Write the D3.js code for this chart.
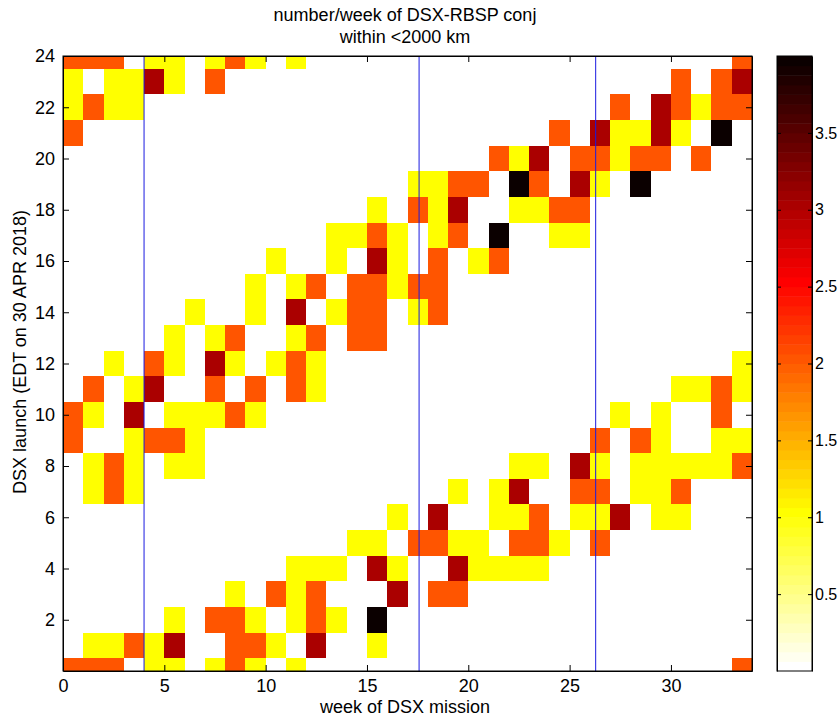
<!DOCTYPE html>
<html>
<head>
<meta charset="utf-8">
<script src="https://cdn.jsdelivr.net/npm/d3@7"></script>
<style>
  body { margin: 0; background: #fff; }
  svg text { font-family: "Liberation Sans", Arial, Helvetica, sans-serif; fill: #000; }
  .axis path, .axis line { stroke: #000; }
</style>
</head>
<body>
<div class="container"></div>
<script>
// conjunction counts per week, one string per launch hour (week 0 .. 33, spaces only group by 5)
var hours = d3.range(0, 25);
var weeks = d3.range(0, 34);
var counts = {
  24: "22201 10121 01000 00000 00000 00000 0002",
  23: "10113 10200 00000 00000 00000 00000 2023",
  22: "12110 00000 00000 00000 00000 00203 2122",
  21: "20000 00000 00000 00000 00002 03113 1040",
  20: "00000 00000 00000 00000 02130 22122 0200",
  19: "00000 00000 00000 00112 20420 31040 0000",
  18: "00000 00000 00000 10213 00112 20000 0000",
  17: "00000 00000 00011 21012 04001 10000 0000",
  16: "00000 00000 10010 31020 12000 00000 0000",
  15: "00000 00001 01202 21220 00000 00000 0000",
  14: "00000 01001 03012 20120 00000 00000 0000",
  13: "00000 10120 01202 20000 00000 00000 0000",
  12: "00102 10310 12100 00000 00000 00000 0001",
  11: "02013 00202 02100 00000 00000 00000 1121",
  10: "21030 11121 00000 00000 00000 00101 0020",
  9:  "20012 21000 00000 00000 00000 02021 0011",
  8:  "01210 11000 00000 00000 00110 31011 1112",
  7:  "01210 00000 00000 00001 01300 22011 2000",
  6:  "00000 00000 00000 01030 01120 11301 1000",
  5:  "00000 00000 00001 10221 10221 02000 0000",
  4:  "00000 00000 01110 31003 11110 00000 0000",
  3:  "00000 00010 21200 03022 00000 00000 0000",
  2:  "00000 10221 01210 40000 00000 00000 0000",
  1:  "01121 30022 10300 10000 00000 00000 0000",
  0:  "22201 10121 01000 00000 00000 00000 0002"
};
// vertical markers (week of mission)
var markerWeeks = [28 / 7, 123 / 7, 184 / 7];
var xTicks = [0, 5, 10, 15, 20, 25, 30];
var yTicks = [2, 4, 6, 8, 10, 12, 14, 16, 18, 20, 22, 24];
var cbarTicks = [0.5, 1, 1.5, 2, 2.5, 3, 3.5];
var cLim = [0, 4];

var width = 840;
var height = 718;
var plotL = 63, plotR = 752, plotT = 56, plotB = 671;
var fontSize = 18;

// flipped MATLAB hot(64)
var nColors = 64;
var hot = d3.range(nColors).map(i => {
    var r = Math.min(1, (i + 1) / 24);
    var g = i < 24 ? 0 : Math.min(1, (i - 23) / 24);
    var b = i < 48 ? 0 : (i - 47) / 16;
    return d3.rgb(r * 255, g * 255, b * 255).toString();
});
var hotFlip = hot.slice().reverse();

function colorOf(v) {
    var idx = Math.floor((v - cLim[0]) / (cLim[1] - cLim[0]) * nColors);
    idx = Math.max(0, Math.min(nColors - 1, idx));
    return hotFlip[idx];
}

var cells = [];
hours.forEach(h => {
    var row = counts[h].replace(/ /g, "").split("").map(Number);
    weeks.forEach(w => {
        if (row[w] > 0) cells.push({week: w, hour: h, value: row[w]});
    });
});

var svg = d3.select(".container").append("svg")
            .attr("width", width)
            .attr("height", height);

var x = d3.scaleLinear().domain([0, 34]).range([plotL, plotR]);
var y = d3.scaleLinear().domain([0, 24]).range([plotB, plotT]);

svg.append("g")
   .selectAll("rect")
   .data(cells)
   .enter().append("rect")
   .attr("x", d => x(d.week))
   .attr("width", d => x(d.week + 1) - x(d.week))
   .attr("y", d => y(Math.min(24, d.hour + 0.5)))
   .attr("height", d => y(Math.max(0, d.hour - 0.5)) - y(Math.min(24, d.hour + 0.5)))
   .attr("fill", d => colorOf(d.value))
   .attr("shape-rendering", "crispEdges");

svg.append("g")
   .selectAll("line")
   .data(markerWeeks)
   .enter().append("line")
   .attr("x1", d => x(d)).attr("x2", d => x(d))
   .attr("y1", plotT).attr("y2", plotB)
   .attr("stroke", "#1a1ae0")
   .attr("stroke-width", 1);

// axes, ticks pointing inward on all four sides
svg.append("g").attr("class", "axis")
   .attr("transform", `translate(0,${plotB})`)
   .call(d3.axisBottom(x).tickValues(xTicks).tickSizeInner(-6).tickSizeOuter(0).tickPadding(8));
svg.append("g").attr("class", "axis")
   .attr("transform", `translate(0,${plotT})`)
   .call(d3.axisTop(x).tickValues(xTicks).tickSizeInner(-6).tickSizeOuter(0).tickFormat(""));
svg.append("g").attr("class", "axis")
   .attr("transform", `translate(${plotL},0)`)
   .call(d3.axisLeft(y).tickValues(yTicks).tickSizeInner(-6).tickSizeOuter(0).tickPadding(8));
svg.append("g").attr("class", "axis")
   .attr("transform", `translate(${plotR},0)`)
   .call(d3.axisRight(y).tickValues(yTicks).tickSizeInner(-6).tickSizeOuter(0).tickFormat(""));

svg.selectAll(".axis text").style("font-size", fontSize + "px");

// title and labels
svg.append("text")
   .attr("x", 405).attr("y", 21)
   .attr("text-anchor", "middle")
   .style("font-size", fontSize + "px")
   .text("number/week of DSX-RBSP conj");
svg.append("text")
   .attr("x", 405).attr("y", 43)
   .attr("text-anchor", "middle")
   .style("font-size", fontSize + "px")
   .text("within <2000 km");
svg.append("text")
   .attr("x", 405).attr("y", 713)
   .attr("text-anchor", "middle")
   .style("font-size", fontSize + "px")
   .text("week of DSX mission");
svg.append("text")
   .attr("transform", `translate(26,352) rotate(-90)`)
   .attr("text-anchor", "middle")
   .style("font-size", fontSize + "px")
   .text("DSX launch (EDT on 30 APR 2018)");

// colorbar
var cbLeft = 777, cbRight = 812;
var cy = d3.scaleLinear().domain(cLim).range([plotB, plotT]);
var step = (cLim[1] - cLim[0]) / nColors;

svg.append("g")
   .selectAll("rect")
   .data(hotFlip)
   .enter().append("rect")
   .attr("x", cbLeft)
   .attr("width", cbRight - cbLeft)
   .attr("y", (d, i) => cy(cLim[0] + (i + 1) * step))
   .attr("height", (d, i) => cy(cLim[0] + i * step) - cy(cLim[0] + (i + 1) * step) + 0.5)
   .attr("fill", d => d);

svg.append("g").attr("class", "axis")
   .attr("transform", `translate(${cbRight},0)`)
   .call(d3.axisRight(cy).tickValues(cbarTicks).tickSizeInner(-4).tickSizeOuter(0).tickPadding(3)
           .tickFormat(d => String(d)))
   .selectAll("text").style("font-size", "16px");
svg.append("g").attr("class", "axis")
   .attr("transform", `translate(${cbLeft},0)`)
   .call(d3.axisLeft(cy).tickValues(cbarTicks).tickSizeInner(-4).tickSizeOuter(0).tickFormat(""));

svg.append("rect")
   .attr("x", cbLeft).attr("y", plotT)
   .attr("width", cbRight - cbLeft).attr("height", plotB - plotT)
   .attr("fill", "none").attr("stroke", "#000");

// plot box
svg.append("rect")
   .attr("x", plotL).attr("y", plotT)
   .attr("width", plotR - plotL).attr("height", plotB - plotT)
   .attr("fill", "none").attr("stroke", "#000");
</script>
</body>
</html>
